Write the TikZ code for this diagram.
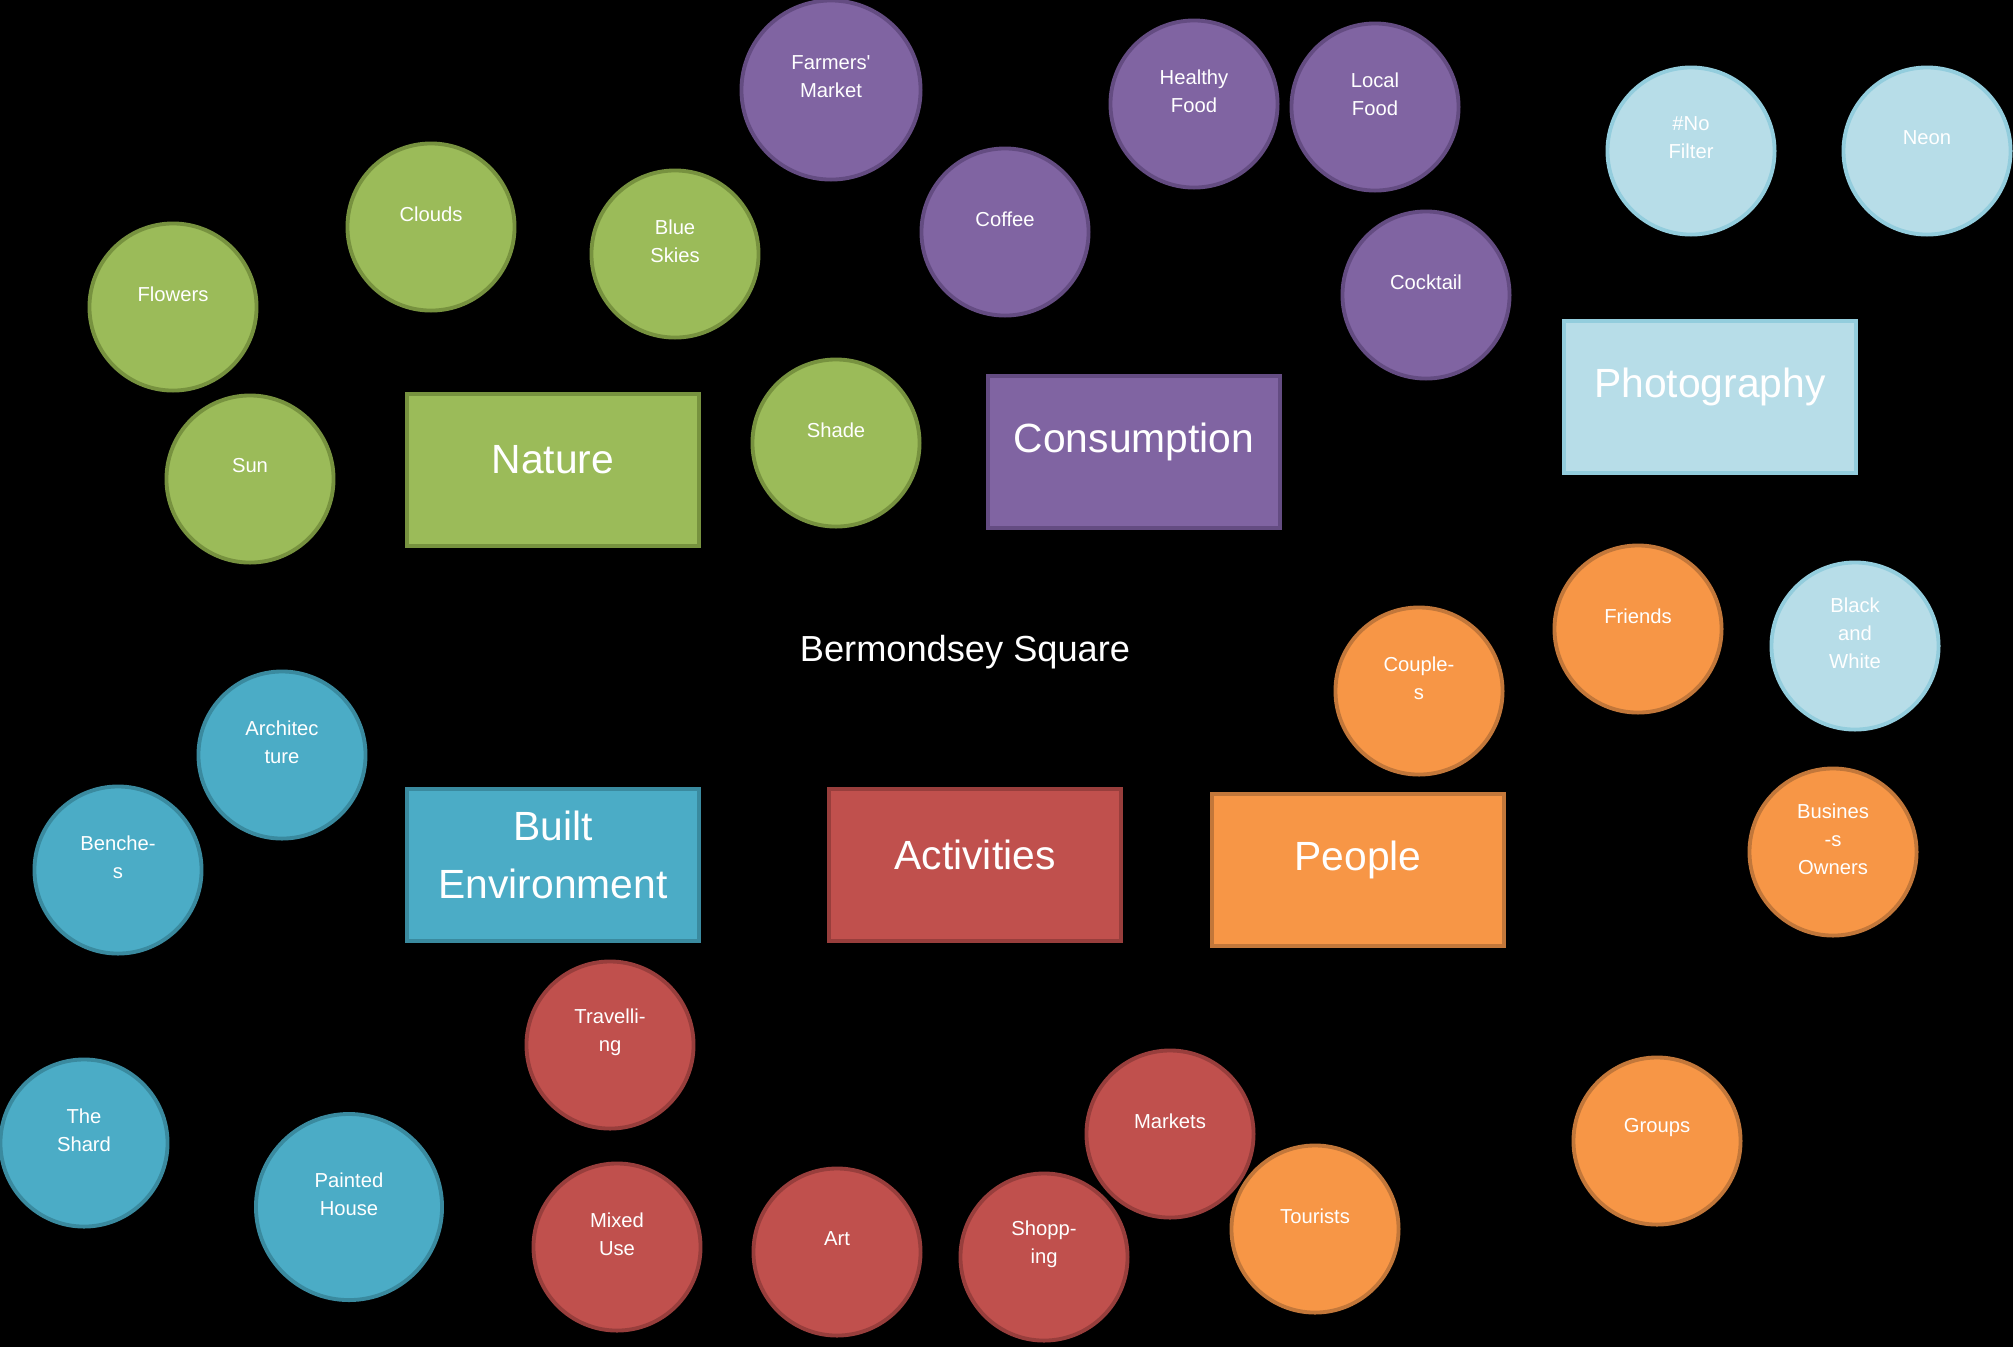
\documentclass[tikz,border=0pt]{standalone}
\usepackage{fontspec}
\setmainfont{Liberation Sans}
\usepackage{tikz}
\usetikzlibrary{positioning}

\definecolor{natfill}{HTML}{9BBB59}
\definecolor{natline}{HTML}{77923F}
\definecolor{confill}{HTML}{8064A2}
\definecolor{conline}{HTML}{644C82}
\definecolor{phofill}{HTML}{B7DDE8}
\definecolor{pholine}{HTML}{93CDDD}
\definecolor{bltfill}{HTML}{4BACC6}
\definecolor{bltline}{HTML}{3A8A9F}
\definecolor{actfill}{HTML}{C0504D}
\definecolor{actline}{HTML}{983E3C}
\definecolor{pplfill}{HTML}{F79646}
\definecolor{pplline}{HTML}{C2773A}

\begin{document}
\begin{tikzpicture}[
    x=0.01cm, y=-0.01cm,
    circ/.style={circle, minimum size=1.67cm, inner sep=0pt, line width=1.1pt},
    catbox/.style={rectangle, minimum width=2.92cm, minimum height=1.52cm, inner sep=0pt, line width=1.1pt},
    clabel/.style={text=white, font=\fontsize{5.75}{8}\selectfont, align=center, yshift=0.13cm},
    blabel/.style={text=white, font=\fontsize{11.6}{16.4}\selectfont, align=center, yshift=0.1cm},
    nat/.style={fill=natfill, draw=natline},
    con/.style={fill=confill, draw=conline},
    pho/.style={fill=phofill, draw=pholine},
    blt/.style={fill=bltfill, draw=bltline},
    act/.style={fill=actfill, draw=actline},
    ppl/.style={fill=pplfill, draw=pplline}
]
    \fill[black] (0,0) rectangle (2013,1347);
    \useasboundingbox (0,0) rectangle (2013,1347);

    % nature
    \node[circ, nat, label={[clabel]center:Flowers}] (flowers) at (173,307) {};
    \node[circ, nat, label={[clabel]center:Clouds}] (clouds) at (431,227) {};
    \node[circ, nat, label={[clabel]center:{Blue\\Skies}}] (blueskies) at (675,254) {};
    \node[circ, nat, label={[clabel]center:Sun}] (sun) at (250,479) {};
    \node[circ, nat, label={[clabel]center:Shade}] (shade) at (836,443) {};
    \node[catbox, nat, label={[blabel]center:Nature}] (nature) at (553,470) {};

    % consumption
    \node[circ, con, minimum size=1.79cm, label={[clabel]center:{Farmers\textquotesingle\\Market}}] (farmers) at (831,90) {};
    \node[circ, con, label={[clabel]center:{Healthy\\Food}}] (healthy) at (1194,104) {};
    \node[circ, con, label={[clabel]center:{Local\\Food}}] (localfood) at (1375,107) {};
    \node[circ, con, label={[clabel]center:Coffee}] (coffee) at (1005,232) {};
    \node[circ, con, label={[clabel]center:Cocktail}] (cocktail) at (1426,295) {};
    \node[catbox, con, label={[blabel]center:Consumption}] (consumption) at (1134,452) {};

    % photography
    \node[circ, pho, label={[clabel]center:{\#No\\Filter}}] (nofilter) at (1691,151) {};
    \node[circ, pho, label={[clabel]center:Neon}] (neon) at (1927,151) {};
    \node[circ, pho, label={[clabel]center:{Black\\and\\White}}] (blackwhite) at (1855,646) {};
    \node[catbox, pho, label={[blabel]center:Photography}] (photography) at (1710,397) {};

    % people
    \node[circ, ppl, label={[clabel]center:Friends}] (friends) at (1638,629) {};
    \node[circ, ppl, label={[clabel]center:{Couple-\\s}}] (couples) at (1419,691) {};
    \node[circ, ppl, label={[clabel]center:{Busines\\-s\\Owners}}] (owners) at (1833,852) {};
    \node[circ, ppl, label={[clabel]center:Groups}] (groups) at (1657,1141) {};
    \node[circ, ppl, label={[clabel]center:Tourists}] (tourists) at (1315,1229) {};
    \node[catbox, ppl, label={[blabel]center:People}] (people) at (1358,870) {};

    % built environment
    \node[circ, blt, label={[clabel]center:{Architec\\ture}}] (architecture) at (282,755) {};
    \node[circ, blt, label={[clabel]center:{Benche-\\s}}] (benches) at (118,870) {};
    \node[circ, blt, label={[clabel]center:{The\\Shard}}] (shard) at (84,1143) {};
    \node[circ, blt, minimum size=1.86cm, label={[clabel]center:{Painted\\House}}] (painted) at (349,1207) {};
    \node[catbox, blt, label={[blabel]center:{Built\\Environment}}] (built) at (553,865) {};

    % activities
    \node[circ, act, label={[clabel]center:{Travelli-\\ng}}] (travelling) at (610,1045) {};
    \node[circ, act, label={[clabel]center:{Mixed\\Use}}] (mixeduse) at (617,1247) {};
    \node[circ, act, label={[clabel]center:Art}] (art) at (837,1252) {};
    \node[circ, act, label={[clabel]center:{Shopp-\\ing}}] (shopping) at (1044,1257) {};
    \node[circ, act, label={[clabel]center:Markets}] (markets) at (1170,1134) {};
    \node[catbox, act, label={[blabel]center:Activities}] (activities) at (975,865) {};

    \node[text=white, font=\fontsize{10.3}{12}\selectfont] (title) at (965,652) {Bermondsey Square};
\end{tikzpicture}
\end{document}
